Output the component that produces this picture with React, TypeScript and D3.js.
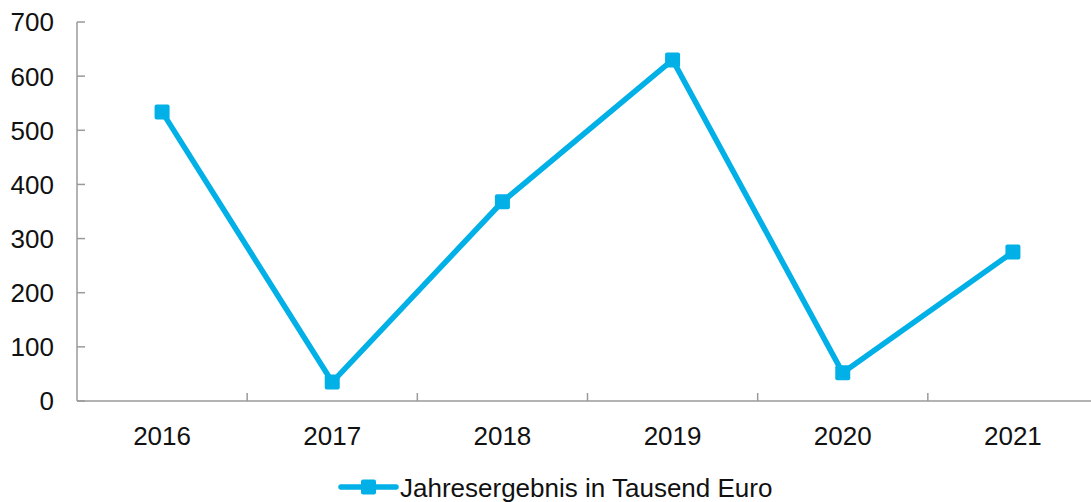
import React from "react";
import * as d3 from "d3";

const years = ["2016", "2017", "2018", "2019", "2020", "2021"];
const values = [534, 35, 368, 630, 52, 275];
const yTicks = [0, 100, 200, 300, 400, 500, 600, 700];
const seriesName = "Jahresergebnis in Tausend Euro";

const W = 1091;
const H = 502;
const COLOR = "#00B0E6";
const AXIS = "#9a9a9a";
const FONT = "'Liberation Sans', Arial, sans-serif";

export default function App() {
  const x = d3.scaleBand<string>().domain(years).range([77, 1098]).padding(0);
  const y = d3.scaleLinear().domain([0, 700]).range([401, 22]);
  const line = d3
    .line<number>()
    .x((_, i) => (x(years[i]) as number) + x.bandwidth() / 2)
    .y((d) => y(d));
  const ms = 15;
  return (
    <svg
      width={W}
      height={H}
      style={{ position: "absolute", left: 0, top: 0, background: "#fff" }}
      fontFamily={FONT}
    >
      {/* y axis */}
      <line x1={77} x2={77} y1={y(700)} y2={y(0)} stroke={AXIS} strokeWidth={1.5} />
      {yTicks.map((t) => (
        <g key={t}>
          <line x1={77} x2={85} y1={y(t)} y2={y(t)} stroke={AXIS} strokeWidth={1.5} />
          <text x={54} y={y(t)} dy="0.36em" textAnchor="end" fontSize={26} fill="#111">
            {t}
          </text>
        </g>
      ))}
      {/* x axis */}
      <line x1={77} x2={1098} y1={y(0)} y2={y(0)} stroke={AXIS} strokeWidth={1.5} />
      {years.map((yr, i) =>
        i > 0 ? (
          <line
            key={"t" + yr}
            x1={x(yr) as number}
            x2={x(yr) as number}
            y1={y(0)}
            y2={y(0) - 8}
            stroke={AXIS}
            strokeWidth={1.5}
          />
        ) : null
      )}
      {years.map((yr) => (
        <text
          key={yr}
          x={(x(yr) as number) + x.bandwidth() / 2}
          y={445}
          textAnchor="middle"
          fontSize={26}
          fill="#111"
        >
          {yr}
        </text>
      ))}
      {/* series */}
      <path d={line(values) || ""} fill="none" stroke={COLOR} strokeWidth={5.5} strokeLinejoin="round" />
      {values.map((v, i) => (
        <rect
          key={i}
          x={(x(years[i]) as number) + x.bandwidth() / 2 - ms / 2}
          y={y(v) - ms / 2}
          width={ms}
          height={ms}
          rx={2}
          fill={COLOR}
        />
      ))}
      {/* legend */}
      <line x1={341} x2={396} y1={487} y2={487} stroke={COLOR} strokeWidth={5.5} strokeLinecap="round" />
      <rect x={368.5 - ms / 2} y={487 - ms / 2} width={ms} height={ms} rx={2} fill={COLOR} />
      <text x={400} y={497} fontSize={26} fill="#111">
        {seriesName}
      </text>
    </svg>
  );
}
